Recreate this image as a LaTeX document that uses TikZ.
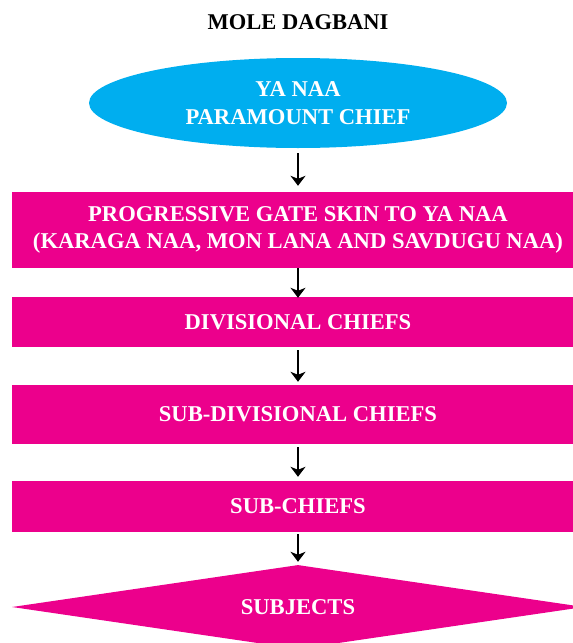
\documentclass[tikz,border=0pt]{standalone}
\usepackage{fontspec}
\setmainfont{Liberation Serif}
\usetikzlibrary{shapes.geometric,arrows.meta}
\definecolor{pinkbox}{RGB}{236,0,140}
\definecolor{bluebox}{RGB}{0,174,239}
\begin{document}
\begin{tikzpicture}[x=1pt,y=-1pt,
  lbl/.style={font=\fontsize{22.6}{27.5}\selectfont\bfseries, text=white, align=center, inner sep=0pt},
  bar/.style={lbl, rectangle, fill=pinkbox, minimum width=572pt},
  conn/.style={-{Stealth[length=10pt,width=15pt,inset=3pt]}, line width=1.2pt, black}]
\useasboundingbox (0,0) rectangle (573,643);
\node[font=\fontsize{22.5}{27}\selectfont\bfseries, text=black, inner sep=0pt] (title) at (298,22.5) {MOLE DAGBANI};
\node[lbl, ellipse, fill=bluebox, minimum width=418pt, minimum height=90pt] (chief) at (298,103) {YA NAA\\PARAMOUNT CHIEF};
\node[bar, minimum height=76pt] (gate) at (298,230) {PROGRESSIVE GATE SKIN TO YA NAA\\(KARAGA NAA, MON LANA AND SAVDUGU NAA)};
\node[bar, minimum height=50pt] (div) at (298,322) {DIVISIONAL CHIEFS};
\node[bar, minimum height=59pt] (subdiv) at (298,414.5) {SUB-DIVISIONAL CHIEFS};
\node[bar, minimum height=51pt] (subch) at (298,506.5) {SUB-CHIEFS};
\node[lbl, diamond, fill=pinkbox, aspect=6.8, minimum width=572pt, minimum height=84pt] (subj) at (298,607) {SUBJECTS};
\draw[conn, shorten <=5pt, shorten >=6pt] (chief.south) -- (gate.north);
\draw[conn, shorten >=-1pt] (gate.south) -- (div.north);
\draw[conn, shorten <=3pt, shorten >=3pt] (div.south) -- (subdiv.north);
\draw[conn, shorten <=3pt, shorten >=4pt] (subdiv.south) -- (subch.north);
\draw[conn, shorten <=2pt, shorten >=3pt] (subch.south) -- (subj.north);
\end{tikzpicture}
\end{document}
